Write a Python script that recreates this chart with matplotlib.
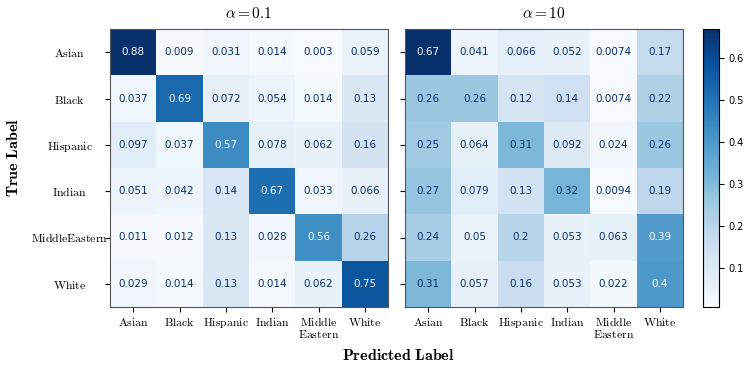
import numpy as np
import matplotlib
matplotlib.use("Agg")
import matplotlib.pyplot as plt

plt.rcParams['mathtext.fontset'] = 'cm'

classes = ["Asian", "Black", "Hispanic", "Indian", "MiddleEastern", "White"]
x_labels = ["Asian", "Black", "Hispanic", "Indian", "Middle\nEastern", "White"]
titles = [r"$\alpha = 0.1$", r"$\alpha = 10$"]

cm_a01 = np.array([
    [0.88, 0.009, 0.031, 0.014, 0.003, 0.059],
    [0.037, 0.69, 0.072, 0.054, 0.014, 0.13],
    [0.097, 0.037, 0.57, 0.078, 0.062, 0.16],
    [0.051, 0.042, 0.14, 0.67, 0.033, 0.066],
    [0.011, 0.012, 0.13, 0.028, 0.56, 0.26],
    [0.029, 0.014, 0.13, 0.014, 0.062, 0.75],
])
cm_a10 = np.array([
    [0.67, 0.041, 0.066, 0.052, 0.0074, 0.17],
    [0.26, 0.26, 0.12, 0.14, 0.0074, 0.22],
    [0.25, 0.064, 0.31, 0.092, 0.024, 0.26],
    [0.27, 0.079, 0.13, 0.32, 0.0094, 0.19],
    [0.24, 0.05, 0.2, 0.053, 0.063, 0.39],
    [0.31, 0.057, 0.16, 0.053, 0.022, 0.4],
])

cmap = plt.get_cmap("Blues")

fig = plt.figure(figsize=(7.47, 3.67), dpi=100)
ax1 = fig.add_axes([110/747, 1-307/367, 278/747, 278/367])
ax2 = fig.add_axes([405/747, 1-307/367, 278/747, 278/367])
cax = fig.add_axes([703/747, 1-307/367, 16/747, 278/367])

for ax, mat, title, show_y in [(ax1, cm_a01, titles[0], True), (ax2, cm_a10, titles[1], False)]:
    im = ax.imshow(mat, cmap=cmap, interpolation="nearest", aspect="auto")
    thresh = (mat.max() + mat.min()) / 2
    for i in range(mat.shape[0]):
        for j in range(mat.shape[1]):
            c = cmap(0.0) if mat[i, j] > thresh else cmap(1.0)
            ax.text(j, i, format(mat[i, j], ".2g"), ha="center", va="center",
                    color=c, fontsize=7.5)
    ax.set_xticks(range(6))
    ax.set_xticklabels([r"$\mathrm{" + l.replace("\n", "}$\n$\\mathrm{") + "}$" for l in x_labels],
                       fontsize=8.5, linespacing=0.9)
    ax.tick_params(axis="x", pad=3)
    ax.set_yticks(range(6))
    if show_y:
        ax.set_yticklabels([r"$\mathrm{" + l + "}$" for l in classes], fontsize=8.5, ha="center")
        ax.tick_params(axis="y", pad=25.5)
    else:
        ax.set_yticklabels([])
    ax.set_title(title, fontsize=11, pad=8)
    for s in ax.spines.values():
        s.set_color("#555555")

cb = fig.colorbar(im, cax=cax)
cb.set_ticks([0.1, 0.2, 0.3, 0.4, 0.5, 0.6])
cb.ax.tick_params(labelsize=7)

fig.text(13/747, 1-158/367, r"$\mathbf{True\ Label}$", rotation=90, ha="center", va="center", fontsize=11.5)
fig.text(398/747, 1-355/367, r"$\mathbf{Predicted\ Label}$", ha="center", va="center", fontsize=11.5)

fig.savefig("out.png", dpi=100)
